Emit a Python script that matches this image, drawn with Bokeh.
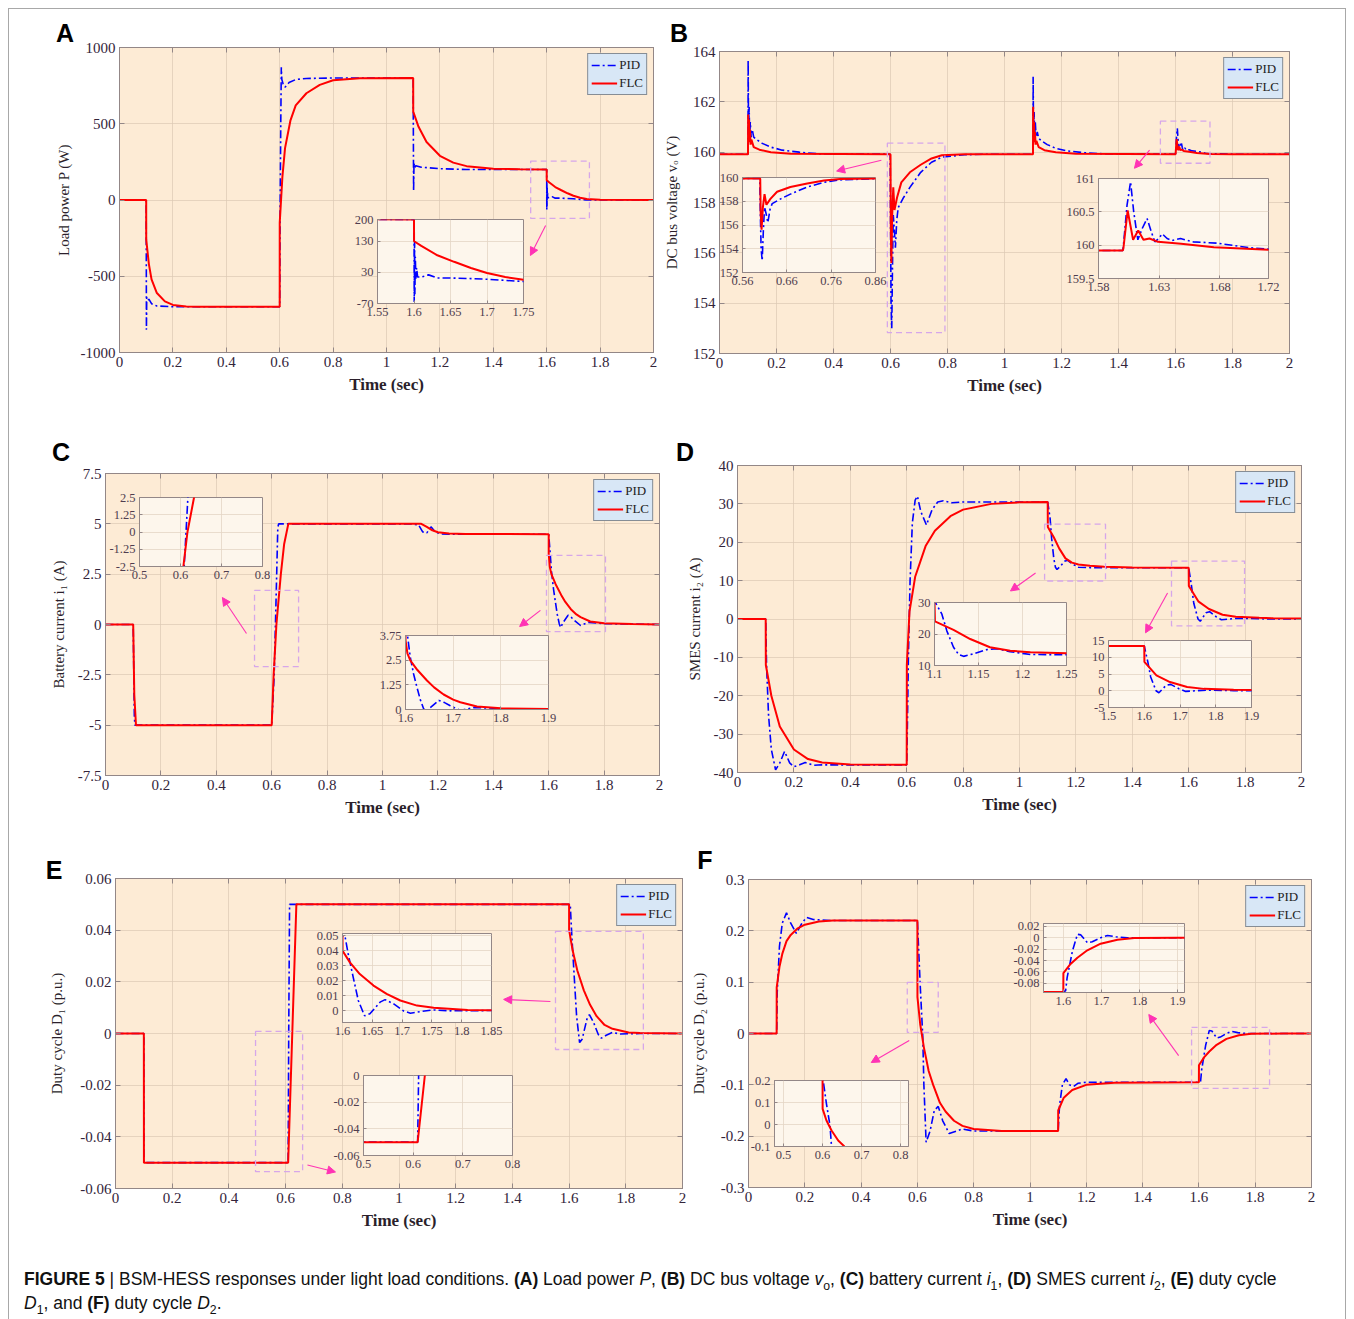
from bokeh.plotting import figure
from bokeh.models import (GridBox, Div, FixedTicker, CustomJSTickFormatter, Legend, LegendItem,
                          BoxAnnotation, Arrow, NormalHead, Range1d, LinearAxis)
from bokeh.embed import file_html
from bokeh.resources import INLINE

# ---------------- data ----------------
# (A) Load power P (W)
A_t_pid = [0, 0.1, 0.1008, 0.102, 0.106, 0.11, 0.12, 0.14, 0.2,
           0.6, 0.6015, 0.604, 0.606, 0.608, 0.613, 0.62, 0.635, 0.66, 0.7, 0.8,
           1.1, 1.1003, 1.1015, 1.103, 1.106, 1.11, 1.13, 1.2, 1.3,
           1.6, 1.6003, 1.6008, 1.6012, 1.6018, 1.6025, 1.6035, 1.605, 1.61, 1.62, 1.632, 1.65, 1.678, 1.7, 1.747, 1.8, 2.0]
A_pid = [0, 0, -850, -640, -660, -650, -680, -695, -700,
         -700, -100, 500, 870, 790, 760, 740, 770, 790, 797, 800,
         800, 560, 60, 240, 210, 225, 215, 205, 200,
         200, -65, 130, -40, 80, 10, 45, 15, 15, 22, 12, 12, 10, 8, 1, 0, 0]
A_t_flc = [0, 0.1, 0.1001, 0.11, 0.12, 0.14, 0.17, 0.2, 0.25, 0.3,
           0.6, 0.6001, 0.61, 0.62, 0.64, 0.66, 0.7, 0.75, 0.8, 0.9,
           1.1, 1.1001, 1.12, 1.15, 1.2, 1.25, 1.3, 1.4, 1.5, 1.6,
           1.6001, 1.61, 1.632, 1.655, 1.678, 1.7, 1.725, 1.75, 1.8, 2.0]
A_flc = [0, 0, -260, -420, -520, -610, -665, -688, -698, -700,
         -700, -150, 150, 340, 520, 620, 700, 755, 785, 799,
         800, 580, 480, 380, 290, 245, 222, 205, 201, 200,
         130, 115, 85, 64, 44, 28, 15, 6, 1, 0]

# (B) DC bus voltage (V)
B_t_pid = [0, 0.1, 0.1005, 0.102, 0.104, 0.106, 0.108, 0.111, 0.115, 0.12, 0.13, 0.15, 0.18, 0.22, 0.28, 0.35,
           0.599, 0.6005, 0.602, 0.6044, 0.607, 0.6097, 0.613, 0.6172, 0.622, 0.627, 0.646, 0.668, 0.706, 0.744, 0.78, 0.86, 0.95,
           1.1, 1.1005, 1.102, 1.104, 1.106, 1.108, 1.111, 1.115, 1.12, 1.13, 1.15, 1.18, 1.22, 1.28, 1.35,
           1.6, 1.6003, 1.6035, 1.6064, 1.609, 1.6124, 1.616, 1.62, 1.6235, 1.6264, 1.6295, 1.6325, 1.6365, 1.6406,
           1.6475, 1.658, 1.6777, 1.705, 1.72, 1.8, 2.0]
B_pid = [159.92, 159.92, 163.65, 160.6, 161.8, 160.5, 161.2, 160.6, 160.9, 160.6, 160.5, 160.35, 160.2, 160.08, 160.0, 159.93,
         159.92, 156.5, 154.0, 153.0, 155.5, 157.5, 157.0, 156.2, 157.3, 157.8, 158.2, 158.6, 159.2, 159.6, 159.8, 159.9, 159.92,
         159.92, 163.0, 160.5, 161.6, 160.5, 161.2, 160.6, 160.8, 160.55, 160.45, 160.3, 160.15, 160.05, 159.98, 159.93,
         159.92, 159.95, 160.6, 160.95, 160.5, 160.08, 160.25, 160.4, 160.2, 160.05, 160.1, 160.17, 160.1, 160.07,
         160.1, 160.05, 160.03, 159.96, 159.94, 159.92, 159.92]
B_t_flc = [0, 0.1, 0.1005, 0.102, 0.1035, 0.105, 0.107, 0.109, 0.112, 0.12, 0.14, 0.18, 0.25,
           0.599, 0.6, 0.601, 0.603, 0.606, 0.6097, 0.614, 0.623, 0.638, 0.668, 0.706, 0.744, 0.78, 0.86,
           1.1, 1.1005, 1.102, 1.1035, 1.105, 1.107, 1.109, 1.112, 1.12, 1.14, 1.18, 1.25,
           1.6, 1.6005, 1.604, 1.6085, 1.6127, 1.617, 1.622, 1.629, 1.648, 1.675, 1.72, 1.8, 2.0]
B_flc = [159.92, 159.92, 161.5, 160.6, 161.3, 160.4, 160.9, 160.3, 160.5, 160.2, 160.1, 160.0, 159.94,
         159.92, 159.9, 157.0, 155.6, 157.5, 158.6, 157.7, 158.2, 158.8, 159.2, 159.5, 159.75, 159.88, 159.92,
         159.92, 161.8, 160.6, 161.2, 160.4, 160.8, 160.3, 160.45, 160.2, 160.08, 160.0, 159.94,
         159.92, 159.95, 160.52, 160.08, 160.22, 160.08, 160.1, 160.05, 160.02, 159.97, 159.93, 159.92, 159.92]

# (C) Battery current i1 (A)
C_t_pid = [0, 0.1, 0.104, 0.106, 0.6, 0.609, 0.618, 0.622, 0.625,
           1.1, 1.13, 1.145, 1.16, 1.175, 1.19, 1.21, 1.25,
           1.6, 1.605, 1.61, 1.617, 1.624, 1.631, 1.638, 1.643, 1.652, 1.67, 1.682, 1.693, 1.715, 1.743, 1.77, 1.8, 1.9, 2.0]
C_pid = [0, 0, -4.5, -5, -5, -2.5, 2.5, 4.8, 5,
         5, 4.95, 4.6, 4.55, 4.85, 4.6, 4.5, 4.48,
         4.48, 3.6, 2.65, 1.8, 1.13, 0.5, 0.04, -0.15, 0.1, 0.46, 0.35, 0.2, -0.05, 0.1, 0.08, 0.04, 0.02, 0.0]
C_t_flc = [0, 0.1, 0.104, 0.11, 0.6, 0.607, 0.617, 0.633, 0.645, 0.66,
           1.1, 1.14, 1.16, 1.18, 1.2, 1.24, 1.3,
           1.6, 1.6001, 1.604, 1.61, 1.625, 1.645, 1.66, 1.68, 1.7, 1.715, 1.75, 1.8, 1.9, 2.0]
C_flc = [0, 0, -3.5, -5, -5, -2.5, 0, 2.5, 4, 5,
         5, 5, 4.85, 4.68, 4.58, 4.52, 4.5,
         4.48, 3.5, 2.85, 2.49, 2.0, 1.47, 1.12, 0.76, 0.5, 0.37, 0.15, 0.06, 0.02, 0.0]

# (D) SMES current i2 (A)
D_t_pid = [0, 0.1, 0.103, 0.11, 0.12, 0.135, 0.15, 0.167, 0.185, 0.2, 0.22, 0.24, 0.27, 0.3,
           0.6, 0.602, 0.606, 0.612, 0.62, 0.63, 0.638, 0.65, 0.67, 0.69, 0.71, 0.73, 0.76, 0.8,
           1.1, 1.1084, 1.114, 1.1216, 1.1274, 1.133, 1.1444, 1.1596, 1.171, 1.186, 1.209, 1.25, 1.3,
           1.6, 1.61, 1.618, 1.633, 1.641, 1.661, 1.674, 1.697, 1.716, 1.744, 1.78, 1.85, 2.0]
D_pid = [0, 0, -12, -25, -34, -39.3, -37.5, -34.5, -37.5, -38.5, -38, -37.4, -38.1, -38,
         -38, -30, -10, 10, 25, 31, 32, 28, 24.5, 28.5, 30.5, 30.8, 30.3, 30.5,
         30.5, 26.3, 21, 15.8, 13.5, 12.9, 13.7, 15.05, 15.3, 14.4, 13.5, 13.4, 13.35,
         13.35, 8.6, 4.1, 0, -0.6, 1.6, 1.9, 0.6, -0.2, 0.0, 0.2, 0.05, 0]
D_t_flc = [0, 0.1, 0.1005, 0.12, 0.15, 0.2, 0.25, 0.3, 0.4,
           0.6, 0.6005, 0.61, 0.63, 0.667, 0.7, 0.755, 0.8, 0.9, 1.0,
           1.1, 1.1005, 1.1216, 1.1406, 1.163, 1.186, 1.209, 1.25, 1.3, 1.4,
           1.6, 1.6005, 1.634, 1.672, 1.72, 1.767, 1.85, 1.9, 2.0]
D_flc = [0, 0, -12, -20, -28, -34, -36.5, -37.4, -37.9,
         -38, -12, 2, 11, 19, 23, 26.8, 28.5, 30, 30.4,
         30.5, 24, 21.3, 18.4, 15.8, 14.7, 14.2, 13.9, 13.6, 13.4,
         13.35, 8.6, 4.6, 2.6, 1.1, 0.56, 0.3, 0.2, 0.1]

# (E) Duty cycle D1 (p.u.)
E_t_pid = [0, 0.1, 0.1003, 0.609, 0.611, 0.614, 1.604, 1.6096, 1.618, 1.6265, 1.637, 1.646, 1.663,
           1.6715, 1.686, 1.703, 1.714, 1.731, 1.753, 1.781, 1.85, 2.0]
E_pid = [0, 0, -0.05, -0.05, 0, 0.05, 0.05, 0.0378, 0.0222, 0.0067, -0.0035, -0.0022, 0.0056,
         0.0073, 0.0044, -0.0004, -0.0018, -0.0007, 0.0004, -0.0002, 0, 0]
E_t_flc = [0, 0.1, 0.1003, 0.609, 0.6235, 0.638, 1.6, 1.6001, 1.6124, 1.629, 1.652, 1.674, 1.697,
           1.725, 1.753, 1.81, 1.85, 2.0]
E_flc = [0, 0, -0.05, -0.05, 0, 0.05, 0.05, 0.04, 0.0322, 0.0244, 0.0167, 0.0111, 0.0067,
         0.0033, 0.0018, 0.0004, 0.0002, 0]

# (F) Duty cycle D2 (p.u.)
F_t_pid = [0, 0.1, 0.102, 0.11, 0.12, 0.135, 0.15, 0.17, 0.19, 0.206, 0.23, 0.3,
           0.6, 0.61, 0.619, 0.623, 0.631, 0.645, 0.66, 0.674, 0.69, 0.713, 0.74, 0.76, 0.8,
           1.1, 1.105, 1.115, 1.128, 1.14, 1.155, 1.17, 1.2,
           1.6, 1.606, 1.61, 1.624, 1.637, 1.646, 1.663, 1.676, 1.698, 1.716, 1.738, 1.768, 2.0]
F_pid = [0, 0, 0.08, 0.17, 0.215, 0.235, 0.215, 0.195, 0.215, 0.226, 0.222, 0.22,
         0.22, 0.094, -0.005, -0.1, -0.212, -0.19, -0.15, -0.142, -0.17, -0.195, -0.19, -0.186, -0.19,
         -0.19, -0.14, -0.1, -0.088, -0.1, -0.103, -0.097, -0.095,
         -0.095, -0.093, -0.07, -0.023, 0.006, 0.005, -0.0087, -0.007, 0, 0.004, 0.0017, 0, 0]
F_t_flc = [0, 0.1, 0.1002, 0.11, 0.12, 0.135, 0.15, 0.175, 0.2, 0.25, 0.3,
           0.6, 0.6002, 0.61, 0.623, 0.64, 0.656, 0.68, 0.7, 0.73, 0.76, 0.8, 0.9,
           1.1, 1.1002, 1.12, 1.15, 1.2, 1.3,
           1.6, 1.6002, 1.619, 1.637, 1.663, 1.698, 1.742, 1.786, 1.9, 2.0]
F_flc = [0, 0, 0.09, 0.13, 0.155, 0.18, 0.192, 0.205, 0.212, 0.218, 0.22,
         0.22, 0.071, 0.018, -0.027, -0.073, -0.1, -0.135, -0.152, -0.17, -0.18, -0.186, -0.19,
         -0.19, -0.15, -0.125, -0.11, -0.1, -0.096,
         -0.095, -0.062, -0.046, -0.035, -0.022, -0.0104, -0.0035, -0.0006, 0, 0]

# axis ticks / labels
T_TICKS = [0, 0.2, 0.4, 0.6, 0.8, 1, 1.2, 1.4, 1.6, 1.8, 2]
A_YTICKS = [-1000, -500, 0, 500, 1000]
B_YTICKS = [152, 154, 156, 158, 160, 162, 164]
C_YTICKS = [-7.5, -5, -2.5, 0, 2.5, 5, 7.5]
D_YTICKS = [-40, -30, -20, -10, 0, 10, 20, 30, 40]
E_YTICKS = [-0.06, -0.04, -0.02, 0, 0.02, 0.04, 0.06]
F_YTICKS = [-0.3, -0.2, -0.1, 0, 0.1, 0.2, 0.3]
YLABELS = ["Load power P (W)", "DC bus voltage v\u2092 (V)", "Battery current i\u2081 (A)",
           "SMES current i\u2082 (A)", "Duty cycle D\u2081 (p.u.)", "Duty cycle D\u2082 (p.u.)"]
SERIES = ["PID", "FLC"]

# inset axes (ranges and ticks)
INSETS = {
    "A": [dict(xr=(1.55, 1.75), yr=(-70, 200), xt=[1.55, 1.6, 1.65, 1.7, 1.75], yt=[-70, 30, 130, 200])],
    "B": [dict(xr=(0.56, 0.86), yr=(152, 160), xt=[0.56, 0.66, 0.76, 0.86], yt=[152, 154, 156, 158, 160]),
          dict(xr=(1.58, 1.72), yr=(159.5, 161), xt=[1.58, 1.63, 1.68, 1.72], yt=[159.5, 160, 160.5, 161])],
    "C": [dict(xr=(0.5, 0.8), yr=(-2.5, 2.5), xt=[0.5, 0.6, 0.7, 0.8], yt=[-2.5, -1.25, 0, 1.25, 2.5]),
          dict(xr=(1.6, 1.9), yr=(0, 3.75), xt=[1.6, 1.7, 1.8, 1.9], yt=[0, 1.25, 2.5, 3.75])],
    "D": [dict(xr=(1.1, 1.25), yr=(10, 30), xt=[1.1, 1.15, 1.2, 1.25], yt=[10, 20, 30]),
          dict(xr=(1.5, 1.9), yr=(-5, 15), xt=[1.5, 1.6, 1.7, 1.8, 1.9], yt=[-5, 0, 5, 10, 15])],
    "E": [dict(xr=(1.6, 1.85), yr=(-0.008, 0.0515), xt=[1.6, 1.65, 1.7, 1.75, 1.8, 1.85],
               yt=[0, 0.01, 0.02, 0.03, 0.04, 0.05]),
          dict(xr=(0.5, 0.8), yr=(-0.06, 0), xt=[0.5, 0.6, 0.7, 0.8], yt=[-0.06, -0.04, -0.02, 0])],
    "F": [dict(xr=(0.477, 0.82), yr=(-0.1, 0.2), xt=[0.5, 0.6, 0.7, 0.8], yt=[-0.1, 0, 0.1, 0.2]),
          dict(xr=(1.548, 1.918), yr=(-0.096, 0.025), xt=[1.6, 1.7, 1.8, 1.9],
               yt=[-0.08, -0.06, -0.04, -0.02, 0, 0.02])],
}
# zoom boxes [x0, x1, y0, y1] and arrows [xs, ys, xe, ye] in data units
ZOOM_BOXES = {
    "A": [[1.54, 1.76, -121, 255]],
    "B": [[0.589, 0.791, 152.83, 160.36], [1.547, 1.721, 159.56, 161.23]],
    "C": [[0.538, 0.697, -2.09, 1.69], [1.592, 1.805, -0.35, 3.43]],
    "D": [[1.089, 1.305, 9.9, 24.7], [1.539, 1.798, -1.8, 15.1]],
    "E": [[1.552, 1.862, -0.0062, 0.0395], [0.494, 0.660, -0.0535, 0.0008]],
    "F": [[0.564, 0.674, 0.002, 0.0994], [1.574, 1.851, -0.107, 0.012]],
}
ARROWS = {
    "A": [[1.596, -167, 1.539, -364]],
    "B": [[0.568, 159.68, 0.411, 159.25], [1.509, 160.08, 1.456, 159.36]],
    "C": [[0.509, -0.45, 0.422, 1.34], [1.570, 0.70, 1.495, -0.10]],
    "D": [[1.057, 12.0, 0.968, 7.3], [1.525, 6.8, 1.447, -3.6]],
    "E": [[1.534, 0.0124, 1.369, 0.0132], [0.677, -0.0509, 0.776, -0.0536]],
    "F": [[0.571, -0.0136, 0.436, -0.0565], [1.528, -0.043, 1.422, 0.037]],
}

# ---------------- styling / layout ----------------
BG = "#fdebd5"
INSET_BG = "#fdf6ec"
GRID = "#dcc9b3"
OUTLINE = "#938787"
TICK_TXT = "#33243a"
LABEL_TXT = "#2b1f2b"
BLUE = "#0000ff"
RED = "#ff0000"
BOXC = "#d6a6ea"
ARROWC = "#ff33b4"
SERIF = "Liberation Serif"
PAGE_W, PAGE_H = 1346, 1319

fmt = CustomJSTickFormatter(code="return String(Number(tick.toFixed(6)));")
blank_fmt = CustomJSTickFormatter(code="return '';")

# frame rectangles (page px) and borders (L, R, T, B)
MAIN_LAYOUT = {
    "A": dict(frame=(119, 47, 653, 352), border=(70, 6, 6, 50), lstand=6),
    "B": dict(frame=(715, 51, 1289, 353), border=(55, 6, 6, 50), lstand=10),
    "C": dict(frame=(105, 473, 659, 775), border=(62, 6, 6, 50), lstand=8),
    "D": dict(frame=(737, 465, 1301, 772), border=(58, 6, 6, 50), lstand=8),
    "E": dict(frame=(115, 878, 682, 1188), border=(75, 5, 6, 50), lstand=12),
    "F": dict(frame=(747, 879, 1311, 1187), border=(60, 6, 6, 50), lstand=11),
}
INSET_LAYOUT = {
    "A": [dict(frame=(377, 219, 523, 303), border=(32, 16, 6, 22))],
    "B": [dict(frame=(742, 177, 875, 272), border=(30, 16, 6, 22)),
          dict(frame=(1098, 178, 1268, 278), border=(40, 16, 6, 22))],
    "C": [dict(frame=(139, 497, 262, 566), border=(36, 14, 6, 22)),
          dict(frame=(405, 635, 548, 709), border=(32, 14, 6, 22))],
    "D": [dict(frame=(934, 602, 1066, 665), border=(24, 16, 6, 22)),
          dict(frame=(1108, 640, 1251, 707), border=(24, 14, 6, 22))],
    "E": [dict(frame=(342, 933, 491, 1022), border=(34, 16, 6, 26)),
          dict(frame=(363, 1075, 512, 1155), border=(40, 14, 6, 22))],
    "F": [dict(frame=(773, 1080, 908, 1146), border=(26, 14, 6, 22)),
          dict(frame=(1043, 923, 1184, 992), border=(38, 14, 6, 22))],
}
LETTER_POS = {"A": (65, 33), "B": (679, 33), "C": (61, 452), "D": (685, 452), "E": (54, 870), "F": (705, 860)}

DATA = {
    "A": (A_t_pid, A_pid, A_t_flc, A_flc, (0, 2), (-1000, 1000), A_YTICKS),
    "B": (B_t_pid, B_pid, B_t_flc, B_flc, (0, 2), (152, 164), B_YTICKS),
    "C": (C_t_pid, C_pid, C_t_flc, C_flc, (0, 2), (-7.5, 7.5), C_YTICKS),
    "D": (D_t_pid, D_pid, D_t_flc, D_flc, (0, 2), (-40, 40), D_YTICKS),
    "E": (E_t_pid, E_pid, E_t_flc, E_flc, (0, 2), (-0.06, 0.06), E_YTICKS),
    "F": (F_t_pid, F_pid, F_t_flc, F_flc, (0, 2), (-0.3, 0.3), F_YTICKS),
}

elements = []  # (model, x0, y0, x1, y1) page px


def outer(frame, border):
    fx0, fy0, fx1, fy1 = frame
    L, R, T, B = border
    return (fx0 - L, fy0 - T, fx1 + R, fy1 + B)


def style_axis(ax, size, tick_in):
    ax.formatter = fmt
    ax.major_tick_in = tick_in
    ax.major_tick_out = 0
    ax.minor_tick_line_color = None
    ax.axis_line_color = OUTLINE
    ax.major_tick_line_color = OUTLINE
    ax.major_label_text_font = SERIF
    ax.major_label_text_font_size = size
    ax.major_label_text_color = TICK_TXT
    ax.major_label_standoff = 4


def add_lines(p, tp, vp, tf, vf):
    r1 = p.line(tp, vp, line_color=BLUE, line_width=1.6, line_dash="8 3 2 3")
    r2 = p.line(tf, vf, line_color=RED, line_width=2)
    return r1, r2


main_figs = []
inset_figs = []
for i, key in enumerate("ABCDEF"):
    tp, vp, tf, vf, xr, yr, yt = DATA[key]
    lay = MAIN_LAYOUT[key]
    x0, y0, x1, y1 = outer(lay["frame"], lay["border"])
    L, R, T, B = lay["border"]
    p = figure(width=x1 - x0, height=y1 - y0, x_range=Range1d(*xr), y_range=Range1d(*yr),
               min_border_left=L, min_border_right=R, min_border_top=T, min_border_bottom=B,
               toolbar_location=None, output_backend="svg",
               background_fill_color=BG, border_fill_color="white",
               outline_line_color=OUTLINE)
    p.xaxis.ticker = FixedTicker(ticks=T_TICKS)
    p.yaxis.ticker = FixedTicker(ticks=yt)
    for ax in (p.xaxis[0], p.yaxis[0]):
        style_axis(ax, "15px", 5)
        ax.axis_label_text_font = SERIF
        ax.axis_label_text_color = LABEL_TXT
    p.xaxis.axis_label = "Time (sec)"
    p.xaxis.axis_label_text_font_style = "bold"
    p.xaxis.axis_label_text_font_size = "17px"
    p.xaxis.axis_label_standoff = 5
    p.yaxis.axis_label = YLABELS[i]
    p.yaxis.axis_label_text_font_style = "normal"
    p.yaxis.axis_label_text_font_size = "15px"
    p.yaxis.axis_label_standoff = lay["lstand"]
    for side, tks in (("above", T_TICKS), ("right", yt)):
        ax = LinearAxis(ticker=FixedTicker(ticks=tks), formatter=blank_fmt,
                        major_label_standoff=0, major_tick_in=5, major_tick_out=0,
                        minor_tick_line_color=None, axis_line_color=OUTLINE,
                        major_tick_line_color=OUTLINE)
        p.add_layout(ax, side)
    p.grid.grid_line_color = GRID
    p.grid.grid_line_alpha = 0.7
    r1, r2 = add_lines(p, tp, vp, tf, vf)
    for bx in ZOOM_BOXES[key]:
        p.add_layout(BoxAnnotation(left=bx[0], right=bx[1], bottom=bx[2], top=bx[3],
                                   fill_alpha=0, line_color=BOXC, line_alpha=1.0,
                                   line_width=1.3, line_dash="6 4"))
    for a in ARROWS[key]:
        p.add_layout(Arrow(x_start=a[0], y_start=a[1], x_end=a[2], y_end=a[3],
                           line_color=ARROWC, line_width=1.1,
                           end=NormalHead(size=8, fill_color=ARROWC, line_color=ARROWC)))
    leg = Legend(items=[LegendItem(label=SERIES[0], renderers=[r1]),
                        LegendItem(label=SERIES[1], renderers=[r2])],
                 location="top_right", margin=6, padding=3, spacing=2,
                 glyph_width=26, glyph_height=14, label_height=14, label_standoff=2,
                 label_text_font=SERIF, label_text_font_size="13px", label_text_color="#222222",
                 background_fill_color="#d8e7f6", background_fill_alpha=1,
                 border_line_color="#333333", border_line_width=1)
    p.add_layout(leg)
    main_figs.append((p, x0, y0, x1, y1))

    for ins, ilay in zip(INSETS[key], INSET_LAYOUT[key]):
        ix0, iy0, ix1, iy1 = outer(ilay["frame"], ilay["border"])
        L, R, T, B = ilay["border"]
        q = figure(width=ix1 - ix0, height=iy1 - iy0, x_range=Range1d(*ins["xr"]), y_range=Range1d(*ins["yr"]),
                   min_border_left=L, min_border_right=R, min_border_top=T, min_border_bottom=B,
                   toolbar_location=None, output_backend="svg",
                   background_fill_color=INSET_BG, border_fill_alpha=0,
                   outline_line_color=OUTLINE)
        q.xaxis.ticker = FixedTicker(ticks=ins["xt"])
        q.yaxis.ticker = FixedTicker(ticks=ins["yt"])
        for ax in (q.xaxis[0], q.yaxis[0]):
            style_axis(ax, "12.5px", 3)
            ax.major_label_text_color = "#4f3d4f"
        q.grid.grid_line_color = "#e4d6c6"
        q.grid.grid_line_alpha = 0.8
        add_lines(q, tp, vp, tf, vf)
        inset_figs.append((q, ix0, iy0, ix1, iy1))

elements.append((Div(text="", width=PAGE_W - 8, height=PAGE_H - 8, margin=0,
                     styles={"border-left": "1px solid #a8a8a8", "border-top": "1px solid #a8a8a8",
                             "border-right": "1px solid #a8a8a8", "box-sizing": "border-box"}),
                 8, 8, PAGE_W, PAGE_H))
elements += main_figs
elements += inset_figs
for key, (cx, cy) in LETTER_POS.items():
    d = Div(text=key, width=32, height=34, margin=0,
            styles={"font-family": "Liberation Sans, Arial, sans-serif", "font-size": "25px",
                    "font-weight": "bold", "line-height": "34px", "text-align": "center", "color": "#000"})
    elements.append((d, cx - 16, cy - 17, cx + 16, cy + 17))

SUB = '<sub style="line-height:0;font-size:70%">'
CAPTION = ("<b>FIGURE 5</b> | BSM-HESS responses under light load conditions. <b>(A)</b> Load power <i>P</i>, "
           f"<b>(B)</b> DC bus voltage <i>v</i>{SUB}o</sub>, <b>(C)</b> battery current <i>i</i>{SUB}1</sub>, "
           f"<b>(D)</b> SMES current <i>i</i>{SUB}2</sub>, <b>(E)</b> duty cycle<br>"
           f"<i>D</i>{SUB}1</sub>, and <b>(F)</b> duty cycle <i>D</i>{SUB}2</sub>.")
cap = Div(text=CAPTION, width=1316, height=52, margin=0,
          styles={"font-family": "Liberation Sans, Arial, sans-serif", "font-size": "17.5px",
                  "line-height": "24px", "color": "#111", "overflow": "hidden"})
elements.append((cap, 24, 1267, 1340, PAGE_H))

# ---------------- CSS grid assembly (allows overlapping insets) ----------------
xs = sorted(set([0, PAGE_W] + [e[1] for e in elements] + [e[3] for e in elements]))
ys = sorted(set([0, PAGE_H] + [e[2] for e in elements] + [e[4] for e in elements]))
cols = [f"{b - a}px" for a, b in zip(xs[:-1], xs[1:])]
rows = [f"{b - a}px" for a, b in zip(ys[:-1], ys[1:])]
children = []
for m, x0, y0, x1, y1 in elements:
    c0 = xs.index(x0); c1 = xs.index(x1)
    r0 = ys.index(y0); r1_ = ys.index(y1)
    children.append((m, r0, c0, r1_ - r0, c1 - c0))

root = GridBox(children=children, rows=rows, cols=cols, spacing=0)

open("out.html", "w").write(file_html(root, INLINE))
